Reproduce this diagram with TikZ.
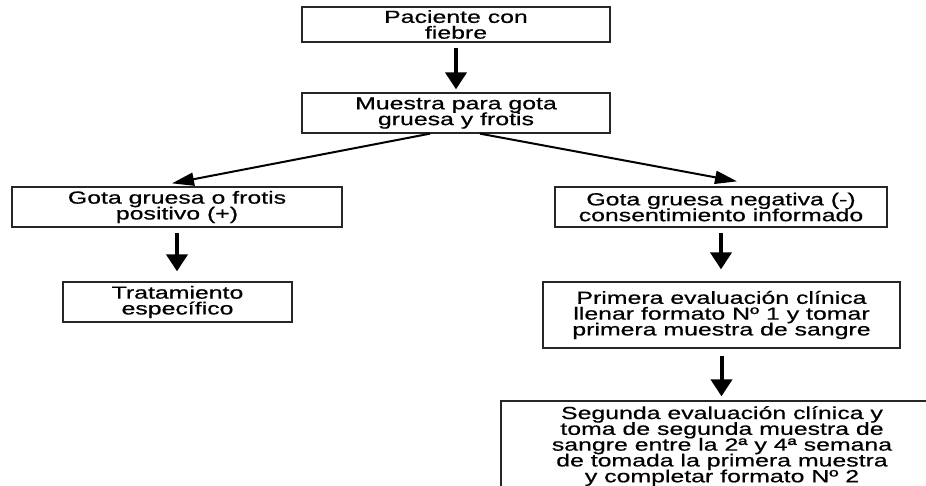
\documentclass[tikz,border=0pt]{standalone}
\usepackage{fontspec}
\setmainfont[FakeStretch=1.42,FakeBold=0.6]{Liberation Sans}
\usetikzlibrary{arrows.meta,calc}
\newcommand\myboxfont{\fontsize{17.5}{15.8}\selectfont\setlength{\lineskiplimit}{-20pt}}
\begin{document}
\begin{tikzpicture}[x=1pt,y=-1pt,
  box/.style={draw=black!85, line width=1.3pt, fill=white, inner sep=0pt, align=center,
              font=\myboxfont},
  bigarrow/.style={line width=4pt, -{Triangle[width=21pt,length=17pt]}},
  thinarrow/.style={line width=2pt, -{Triangle[width=13pt,length=22pt]}}]
\useasboundingbox (0,0) rectangle (926,485);
\clip (0,0) rectangle (926,485);
\fill[white] (0,0) rectangle (926,485);

\node[box, minimum width=308pt, minimum height=35pt] (b1) at (456,24.5) {Paciente con\\fiebre};
\node[box, minimum width=308pt, minimum height=40pt] (b2) at (456,113) {Muestra para gota\\gruesa y frotis};
\node[box, minimum width=330pt, minimum height=40pt] (gl) at (177,207) {Gota gruesa o frotis\\positivo (+)};
\node[box, minimum width=229pt, minimum height=40pt] (tr) at (177.5,302) {Tratamiento\\específico};
\node[box, minimum width=332pt, minimum height=40pt] (gn) at (721,207) {Gota gruesa negativa (-)\\consentimiento informado};
\node[box, minimum width=357pt, minimum height=66pt] (pm) at (721.5,315) {Primera evaluación clínica\\llenar formato Nº 1 y tomar\\primera muestra de sangre};
\node[box, minimum width=442pt, minimum height=90pt] (sg) at (722,446) {Segunda evaluación clínica y\\toma de segunda muestra de\\sangre entre la 2ª y 4ª semana\\de tomada la primera muestra\\y completar formato Nº 2};

\draw[bigarrow, shorten <=5pt, shorten >=3pt] (b1.south) -- (b1.south |- b2.north);
\draw[bigarrow, shorten <=5pt, shorten >=10pt] (gl.south) -- (gl.south |- tr.north);
\draw[bigarrow, shorten <=5pt, shorten >=12pt] (gn.south) -- (gn.south |- pm.north);
\draw[bigarrow, shorten <=7pt, shorten >=4pt] (pm.south) -- (pm.south |- sg.north);

\draw[thinarrow] ([xshift=-26pt]b2.south) -- ([xshift=-5pt,yshift=3pt]gl.north);
\draw[thinarrow] ([xshift=24pt]b2.south) -- ([xshift=16pt,yshift=5pt]gn.north);
\end{tikzpicture}
\end{document}
